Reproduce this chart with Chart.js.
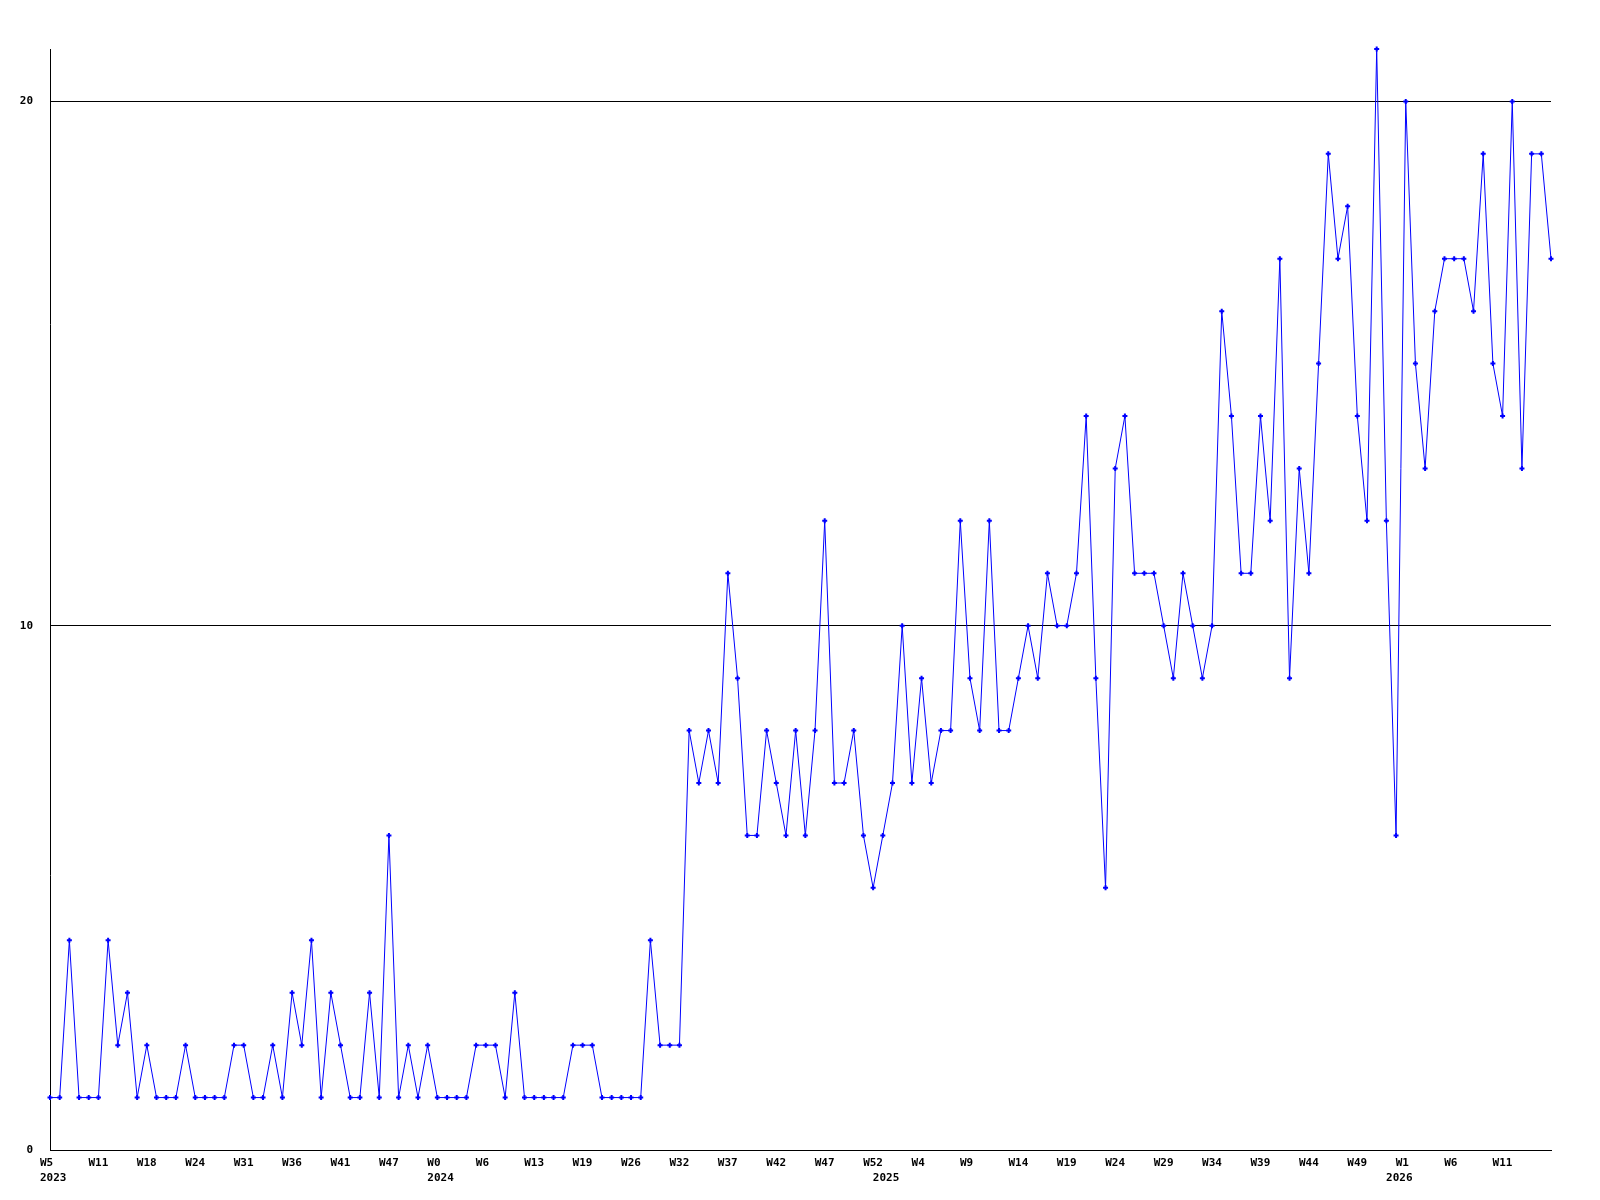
<!DOCTYPE html>
<html>
<head>
<meta charset="utf-8">
<script src="https://cdn.jsdelivr.net/npm/chart.js@4/dist/chart.umd.min.js"></script>
<style>
  html, body { margin: 0; padding: 0; background: #fff; }
  #wrap { width: 1600px; height: 1200px; }
</style>
</head>
<body>
<div id="wrap"><canvas id="chart" width="1600" height="1200"></canvas></div>
<script>
// weekly counts, one per point
const values = [
    1, 1, 4, 1, 1, 1, 4, 2, 3, 1,
    2, 1, 1, 1, 2, 1, 1, 1, 1, 2,
    2, 1, 1, 2, 1, 3, 2, 4, 1, 3,
    2, 1, 1, 3, 1, 6, 1, 2, 1, 2,
    1, 1, 1, 1, 2, 2, 2, 1, 3, 1,
    1, 1, 1, 1, 2, 2, 2, 1, 1, 1,
    1, 1, 4, 2, 2, 2, 8, 7, 8, 7,
    11, 9, 6, 6, 8, 7, 6, 8, 6, 8,
    12, 7, 7, 8, 6, 5, 6, 7, 10, 7,
    9, 7, 8, 8, 12, 9, 8, 12, 8, 8,
    9, 10, 9, 11, 10, 10, 11, 14, 9, 5,
    13, 14, 11, 11, 11, 10, 9, 11, 10, 9,
    10, 16, 14, 11, 11, 14, 12, 17, 9, 13,
    11, 15, 19, 17, 18, 14, 12, 21, 12, 6,
    20, 15, 13, 16, 17, 17, 17, 16, 19, 15,
    14, 20, 13, 19, 19, 17
];

// a week label on every 5th point
const weekTicks = [
    'W5', 'W11', 'W18', 'W24', 'W31', 'W36', 'W41', 'W47',
    'W0', 'W6', 'W13', 'W19', 'W26', 'W32', 'W37', 'W42', 'W47', 'W52',
    'W4', 'W9', 'W14', 'W19', 'W24', 'W29', 'W34', 'W39', 'W44', 'W49',
    'W1', 'W6', 'W11'
];
const tickEvery = 5;

// year labels and the point index where each year starts
const years = ['2023', '2024', '2025', '2026'];
const yearStart = [0, 40, 86, 139];

const yTicks = [0, 10, 20];

const labels = values.map((v, i) => {
    const week = i % tickEvery === 0 ? (weekTicks[i / tickEvery] || '') : '';
    const y = yearStart.indexOf(i);
    return y >= 0 ? [week, years[y]] : week;
});

const tickFont = { family: 'DejaVu Sans Mono', size: 11, weight: 'bold', lineHeight: 1.4 };

new Chart(document.getElementById('chart'), {
    type: 'line',
    data: {
        labels: labels,
        datasets: [{
            data: values,
            borderColor: '#0000ff',
            backgroundColor: '#0000ff',
            borderWidth: 1,
            tension: 0,
            clip: false,
            pointStyle: 'cross',
            pointRadius: 2.5,
            pointBorderWidth: 2,
            pointBorderColor: '#0000ff'
        }]
    },
    options: {
        responsive: false,
        animation: false,
        layout: { padding: { top: 49, right: 49, left: 0, bottom: 0 } },
        plugins: {
            legend: { display: false },
            tooltip: { enabled: false }
        },
        scales: {
            x: {
                grid: { display: false },
                border: { display: true, color: '#000', width: 1 },
                ticks: {
                    autoSkip: false,
                    maxRotation: 0,
                    minRotation: 0,
                    align: 'start',
                    labelOffset: -10,
                    padding: -3,
                    color: '#000',
                    font: tickFont
                },
                afterFit: (scale) => { scale.height = 50; }
            },
            y: {
                min: 0,
                max: 21,
                afterBuildTicks: (scale) => {
                    scale.ticks = yTicks.map(v => ({ value: v }));
                },
                grid: { color: '#000', lineWidth: 1, drawTicks: false },
                border: { display: true, color: '#000', width: 1 },
                ticks: {
                    padding: 17,
                    color: '#000',
                    font: tickFont
                },
                afterFit: (scale) => { scale.width = 50; }
            }
        }
    }
});
</script>
</body>
</html>
